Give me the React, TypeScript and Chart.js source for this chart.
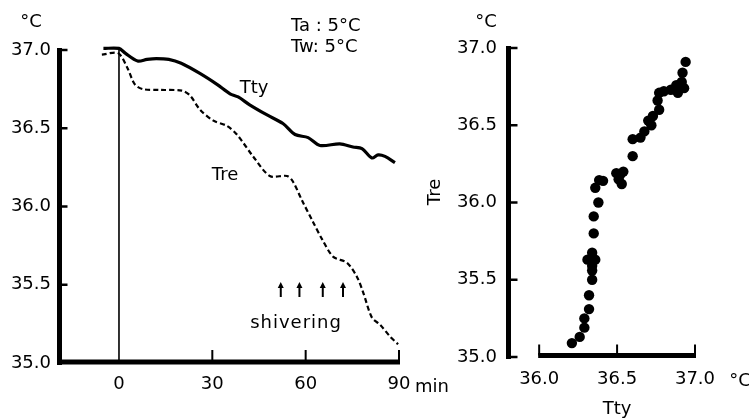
import React, { useEffect, useRef } from "react";
import { Chart, registerables } from "chart.js";
Chart.register(...registerables);

// ---- Left panel: time course (min) ----
const ttyTime = [-5, 0, 2, 6, 9, 12, 16, 20, 26, 31.5, 35.7, 38.3, 42, 47.6, 52.7, 56.6, 60.8, 64.6, 71, 75.2, 78.1, 81.3, 83.3, 85.5, 88.7];
const ttyValues = [37.01, 37.01, 36.98, 36.93, 36.94, 36.945, 36.94, 36.915, 36.85, 36.78, 36.72, 36.7, 36.65, 36.585, 36.53, 36.46, 36.44, 36.39, 36.4, 36.38, 36.37, 36.31, 36.33, 36.32, 36.28];
const treTime = [-5.5, -0.3, 2.6, 5.1, 7.7, 13.2, 20.2, 22.8, 26, 30.2, 34.7, 37.9, 43.1, 48.5, 54, 55.9, 58.8, 62.4, 65.3, 68.8, 73.3, 76.5, 78.5, 81.3, 83.9, 87.1, 89.7];
const treValues = [36.97, 36.98, 36.89, 36.78, 36.75, 36.745, 36.74, 36.71, 36.62, 36.55, 36.515, 36.46, 36.32, 36.195, 36.195, 36.16, 36.04, 35.9, 35.79, 35.68, 35.64, 35.55, 35.45, 35.29, 35.245, 35.17, 35.12];
const timeTicks = [0, 30, 60, 90];
const tempTicks = [35.0, 35.5, 36.0, 36.5, 37.0];
const shiveringTimes = [52, 58, 65.5, 72];

// ---- Right panel: Tre vs Tty ----
const scatterTty = [36.94, 36.92, 36.915, 36.88, 36.93, 36.89, 36.845, 36.8, 36.77, 36.76, 36.77, 36.73, 36.7, 36.72, 36.675, 36.65, 36.6, 36.6, 36.54, 36.52, 36.495, 36.51, 36.53, 36.41, 36.385, 36.36, 36.38, 36.35, 36.35, 36.34, 36.31, 36.36, 36.34, 36.34, 36.34, 36.32, 36.32, 36.29, 36.29, 36.26, 36.21];
const scatterTre = [36.91, 36.84, 36.78, 36.76, 36.74, 36.71, 36.73, 36.72, 36.71, 36.66, 36.6, 36.56, 36.53, 36.5, 36.46, 36.42, 36.41, 36.3, 36.2, 36.18, 36.19, 36.15, 36.12, 36.14, 36.145, 36.095, 36.0, 35.91, 35.8, 35.675, 35.63, 35.63, 35.59, 35.56, 35.5, 35.4, 35.31, 35.25, 35.19, 35.13, 35.09];
const ttyTicks = [36.0, 36.5, 37.0];

const FONT = '"DejaVu Sans", sans-serif';
const TICK_FONT = { size: 18, family: FONT };

function txt(ctx: CanvasRenderingContext2D, s: string, x: number, y: number, size: number, align: CanvasTextAlign = "center", spacing = "0px") {
  ctx.font = `${size}px ${FONT}`;
  ctx.textAlign = align;
  ctx.textBaseline = "middle";
  (ctx as any).letterSpacing = spacing;
  ctx.fillText(s, x, y);
  (ctx as any).letterSpacing = "0px";
}

function line(ctx: CanvasRenderingContext2D, x1: number, y1: number, x2: number, y2: number, w: number) {
  ctx.lineWidth = w;
  ctx.beginPath();
  ctx.moveTo(x1, y1);
  ctx.lineTo(x2, y2);
  ctx.stroke();
}

const leftDecor = {
  id: "leftDecor",
  afterDraw(chart: any) {
    const ctx: CanvasRenderingContext2D = chart.ctx;
    const xs = chart.scales.x;
    const ys = chart.scales.y;
    const ca = chart.chartArea;
    ctx.save();
    ctx.strokeStyle = "#000";
    ctx.fillStyle = "#000";
    ctx.lineCap = "butt";
    const top = ys.getPixelForValue(37);
    const bottom = ys.getPixelForValue(35);
    const axX = ca.left + 1.5;
    // y axis
    line(ctx, axX, top - 2, axX, bottom + 2, 5);
    // x axis
    line(ctx, ca.left - 1, bottom - 1, xs.getPixelForValue(90) + 1, bottom - 1, 5);
    // y ticks (inward)
    tempTicks.forEach((v) => {
      if (v === 35) return;
      const py = ys.getPixelForValue(v);
      line(ctx, axX, py, axX + 8, py, 2.5);
    });
    // x ticks (inward)
    timeTicks.forEach((v) => {
      if (v === 0) return;
      const px = xs.getPixelForValue(v);
      line(ctx, px, bottom - 1, px, bottom - 13, 2);
    });
    // vertical line at time 0
    const p0 = xs.getPixelForValue(0);
    line(ctx, p0, top - 3, p0, bottom, 1.6);
    // texts
    txt(ctx, "°C", 31, 22, 18);
    txt(ctx, "Ta : 5°C", 291, 26, 18, "left");
    txt(ctx, "Tw: 5°C", 291, 47, 18, "left");
    txt(ctx, "Tty", 254, 88, 18);
    txt(ctx, "Tre", 225, 175, 18);
    txt(ctx, "shivering", 296, 323, 18, "center", "1px");
    txt(ctx, "min", 415, 387, 18, "left");
    // shivering arrows
    shiveringTimes.forEach((t) => {
      const px = xs.getPixelForValue(t);
      line(ctx, px, 297, px, 286, 2);
      ctx.beginPath();
      ctx.moveTo(px, 282);
      ctx.lineTo(px - 3, 288);
      ctx.lineTo(px + 3, 288);
      ctx.closePath();
      ctx.fill();
    });
    ctx.restore();
  },
};

const rightDecor = {
  id: "rightDecor",
  afterDraw(chart: any) {
    const ctx: CanvasRenderingContext2D = chart.ctx;
    const xs = chart.scales.x;
    const ys = chart.scales.y;
    const ca = chart.chartArea;
    ctx.save();
    ctx.strokeStyle = "#000";
    ctx.fillStyle = "#000";
    const top = ys.getPixelForValue(37);
    const bottom = ys.getPixelForValue(35);
    const axX = ca.left + 0.5;
    line(ctx, axX, top - 2, axX, bottom + 2, 5);
    tempTicks.forEach((v) => {
      const py = ys.getPixelForValue(v);
      line(ctx, axX, py, axX + 9, py, 2.5);
    });
    const axY = bottom - 1.5;
    const x0 = xs.getPixelForValue(ttyTicks[0]);
    const x1 = xs.getPixelForValue(ttyTicks[ttyTicks.length - 1]);
    line(ctx, x0 - 1, axY, x1 + 1, axY, 5);
    ttyTicks.forEach((v) => {
      const px = xs.getPixelForValue(v);
      line(ctx, px, axY, px, axY - 11, 2);
    });
    txt(ctx, "°C", 66, 22, 18);
    txt(ctx, "°C", 320, 381, 18);
    txt(ctx, "Tty", xs.getPixelForValue(36.5), 409, 18);
    ctx.save();
    ctx.translate(15, 192);
    ctx.rotate(-Math.PI / 2);
    txt(ctx, "Tre", 0, 0, 18);
    ctx.restore();
    ctx.restore();
  },
};

function leftConfig(): any {
  return {
    type: "line",
    data: {
      datasets: [
        {
          label: "Tty",
          data: ttyTime.map((t, i) => ({ x: t, y: ttyValues[i] })),
          borderColor: "#000",
          borderWidth: 3.2,
          pointRadius: 0,
          tension: 0.3,
          fill: false,
          clip: false,
        },
        {
          label: "Tre",
          data: treTime.map((t, i) => ({ x: t, y: treValues[i] })),
          borderColor: "#000",
          borderWidth: 2.2,
          borderDash: [5, 3],
          pointRadius: 0,
          tension: 0.3,
          fill: false,
          clip: false,
        },
      ],
    },
    options: {
      animation: false,
      responsive: false,
      devicePixelRatio: 1,
      layout: { padding: { top: 50, right: 61, left: 0, bottom: 0 } },
      plugins: { legend: { display: false }, tooltip: { enabled: false } },
      scales: {
        x: {
          type: "linear",
          min: -19.6,
          max: 90,
          afterBuildTicks: (s: any) => {
            s.ticks = timeTicks.map((v) => ({ value: v }));
          },
          afterFit: (s: any) => {
            s.height = 56;
          },
          grid: { display: false, drawTicks: false },
          border: { display: false },
          ticks: { padding: 11, color: "#000", font: TICK_FONT, maxRotation: 0, autoSkip: false, callback: (v: any) => String(v) },
        },
        y: {
          type: "linear",
          min: 35,
          max: 37,
          afterBuildTicks: (s: any) => {
            s.ticks = tempTicks.map((v) => ({ value: v }));
          },
          afterFit: (s: any) => {
            s.width = 58;
          },
          grid: { display: false, drawTicks: false },
          border: { display: false },
          ticks: { padding: 7, color: "#000", font: TICK_FONT, callback: (v: any) => Number(v).toFixed(1) },
        },
      },
    },
    plugins: [leftDecor],
  };
}

function rightConfig(): any {
  return {
    type: "scatter",
    data: {
      datasets: [
        {
          label: "Tre vs Tty",
          data: scatterTty.map((t, i) => ({ x: t, y: scatterTre[i] })),
          backgroundColor: "#000",
          borderColor: "#000",
          pointRadius: 5.2,
          borderWidth: 0,
        },
      ],
    },
    options: {
      animation: false,
      responsive: false,
      devicePixelRatio: 1,
      layout: { padding: { top: 48, right: 54, left: 0, bottom: 0 } },
      plugins: { legend: { display: false }, tooltip: { enabled: false } },
      scales: {
        x: {
          type: "linear",
          min: 35.8,
          max: 37.0,
          afterBuildTicks: (s: any) => {
            s.ticks = ttyTicks.map((v) => ({ value: v }));
          },
          afterFit: (s: any) => {
            s.height = 62;
          },
          grid: { display: false, drawTicks: false },
          border: { display: false },
          ticks: { padding: 12, color: "#000", font: TICK_FONT, maxRotation: 0, autoSkip: false, callback: (v: any) => Number(v).toFixed(1) },
        },
        y: {
          type: "linear",
          min: 35,
          max: 37,
          afterBuildTicks: (s: any) => {
            s.ticks = tempTicks.map((v) => ({ value: v }));
          },
          afterFit: (s: any) => {
            s.width = 88;
          },
          grid: { display: false, drawTicks: false },
          border: { display: false },
          ticks: { padding: 11, color: "#000", font: TICK_FONT, callback: (v: any) => Number(v).toFixed(1) },
        },
      },
    },
    plugins: [rightDecor],
  };
}

export default function App() {
  const leftRef = useRef<HTMLCanvasElement>(null);
  const rightRef = useRef<HTMLCanvasElement>(null);
  useEffect(() => {
    const c1 = new Chart(leftRef.current as HTMLCanvasElement, leftConfig());
    const c2 = new Chart(rightRef.current as HTMLCanvasElement, rightConfig());
    return () => {
      c1.destroy();
      c2.destroy();
    };
  }, []);
  return (
    <div style={{ position: "absolute", left: 0, top: 0, width: 749, height: 419, background: "#fff", overflow: "hidden" }}>
      <canvas ref={leftRef} width={460} height={419} style={{ position: "absolute", left: 0, top: 0 }} />
      <canvas ref={rightRef} width={329} height={419} style={{ position: "absolute", left: 420, top: 0 }} />
    </div>
  );
}
